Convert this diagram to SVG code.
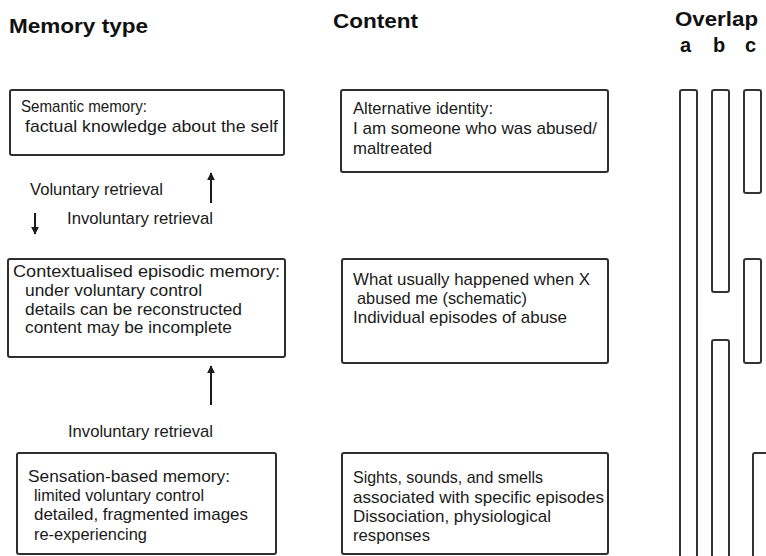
<svg xmlns="http://www.w3.org/2000/svg" width="766" height="556" viewBox="0 0 766 556">
<defs>
<style>
.box{fill:#fff;stroke:#2e2e2e;stroke-width:2}
.bar{fill:#fff;stroke:#333;stroke-width:2}
.t{font-family:"Liberation Sans",Arial,sans-serif;font-size:17px;fill:#1a1a1a}
.h{font-family:"Liberation Sans",Arial,sans-serif;font-size:20px;font-weight:bold;fill:#111}
.ln{stroke:#1a1a1a;stroke-width:2;fill:none}
</style>
<marker id="ah" viewBox="0 0 10 10" refX="9" refY="5" markerWidth="4" markerHeight="4" orient="auto" markerUnits="strokeWidth">
<path d="M0,0 L10,5 L0,10 z" fill="#1a1a1a"/>
</marker>
</defs>
<rect width="766" height="556" fill="#fff"/>

<g id="headings">
<text class="h" x="9" y="33" textLength="139" lengthAdjust="spacingAndGlyphs">Memory type</text>
<text class="h" x="333" y="28" textLength="85" lengthAdjust="spacingAndGlyphs">Content</text>
<text class="h" x="675" y="26" textLength="83" lengthAdjust="spacingAndGlyphs">Overlap</text>
<text class="h" x="680" y="52">a</text>
<text class="h" x="713" y="52">b</text>
<text class="h" x="745" y="52">c</text>
</g>

<g id="semantic">
<rect class="box" x="10" y="90" width="274" height="65" rx="2"/>
<text class="t" x="21" y="112" textLength="126" lengthAdjust="spacingAndGlyphs">Semantic memory:</text>
<text class="t" x="25" y="132" textLength="253" lengthAdjust="spacingAndGlyphs">factual knowledge about the self</text>
</g>

<g id="contextualised">
<rect class="box" x="8" y="259" width="277" height="98" rx="2"/>
<text class="t" x="13" y="277" textLength="267" lengthAdjust="spacingAndGlyphs">Contextualised episodic memory:</text>
<text class="t" x="25" y="296" textLength="177" lengthAdjust="spacingAndGlyphs">under voluntary control</text>
<text class="t" x="25" y="315" textLength="217" lengthAdjust="spacingAndGlyphs">details can be reconstructed</text>
<text class="t" x="25" y="333" textLength="207" lengthAdjust="spacingAndGlyphs">content may be incomplete</text>
</g>

<g id="sensation">
<rect class="box" x="17" y="453" width="259" height="101" rx="2"/>
<text class="t" x="28" y="482" textLength="202" lengthAdjust="spacingAndGlyphs">Sensation-based memory:</text>
<text class="t" x="34" y="501" textLength="170" lengthAdjust="spacingAndGlyphs">limited voluntary control</text>
<text class="t" x="34" y="520" textLength="214" lengthAdjust="spacingAndGlyphs">detailed, fragmented images</text>
<text class="t" x="34" y="540" textLength="113" lengthAdjust="spacingAndGlyphs">re-experiencing</text>
</g>

<g id="alternative-identity">
<rect class="box" x="341" y="90" width="267" height="82" rx="2"/>
<text class="t" x="353" y="114" textLength="140" lengthAdjust="spacingAndGlyphs">Alternative identity:</text>
<text class="t" x="353" y="134" textLength="244" lengthAdjust="spacingAndGlyphs">I am someone who was abused/</text>
<text class="t" x="353" y="154" textLength="79" lengthAdjust="spacingAndGlyphs">maltreated</text>
</g>

<g id="what-usually">
<rect class="box" x="342" y="259" width="266" height="104" rx="2"/>
<text class="t" x="353" y="285" textLength="237" lengthAdjust="spacingAndGlyphs">What usually happened when X</text>
<text class="t" x="357" y="304" textLength="170" lengthAdjust="spacingAndGlyphs">abused me (schematic)</text>
<text class="t" x="353" y="323" textLength="214" lengthAdjust="spacingAndGlyphs">Individual episodes of abuse</text>
</g>

<g id="sights">
<rect class="box" x="342" y="453" width="266" height="101" rx="2"/>
<text class="t" x="353" y="483" textLength="190" lengthAdjust="spacingAndGlyphs">Sights, sounds, and smells</text>
<text class="t" x="353" y="503" textLength="251" lengthAdjust="spacingAndGlyphs">associated with specific episodes</text>
<text class="t" x="353" y="522" textLength="198" lengthAdjust="spacingAndGlyphs">Dissociation, physiological</text>
<text class="t" x="353" y="541" textLength="77" lengthAdjust="spacingAndGlyphs">responses</text>
</g>

<g id="overlap">
<rect class="bar" x="680" y="90" width="17" height="480" rx="2"/>
<rect class="bar" x="712" y="90" width="17" height="202" rx="2"/>
<rect class="bar" x="712" y="340" width="17" height="230" rx="2"/>
<rect class="bar" x="744" y="90" width="17" height="103" rx="2"/>
<rect class="bar" x="744" y="259" width="17" height="104" rx="2"/>
<rect class="bar" x="753" y="453" width="30" height="120" rx="2"/>
</g>

<g id="connectors">
<line class="ln" x1="211" y1="203" x2="211" y2="173" marker-end="url(#ah)"/>
<line class="ln" x1="35" y1="213" x2="35" y2="234" marker-end="url(#ah)"/>
<line class="ln" x1="211" y1="405" x2="211" y2="366" marker-end="url(#ah)"/>
<text class="t" x="30" y="195" textLength="133" lengthAdjust="spacingAndGlyphs">Voluntary retrieval</text>
<text class="t" x="67" y="224" textLength="146" lengthAdjust="spacingAndGlyphs">Involuntary retrieval</text>
<text class="t" x="68" y="437" textLength="145" lengthAdjust="spacingAndGlyphs">Involuntary retrieval</text>
</g>
</svg>
